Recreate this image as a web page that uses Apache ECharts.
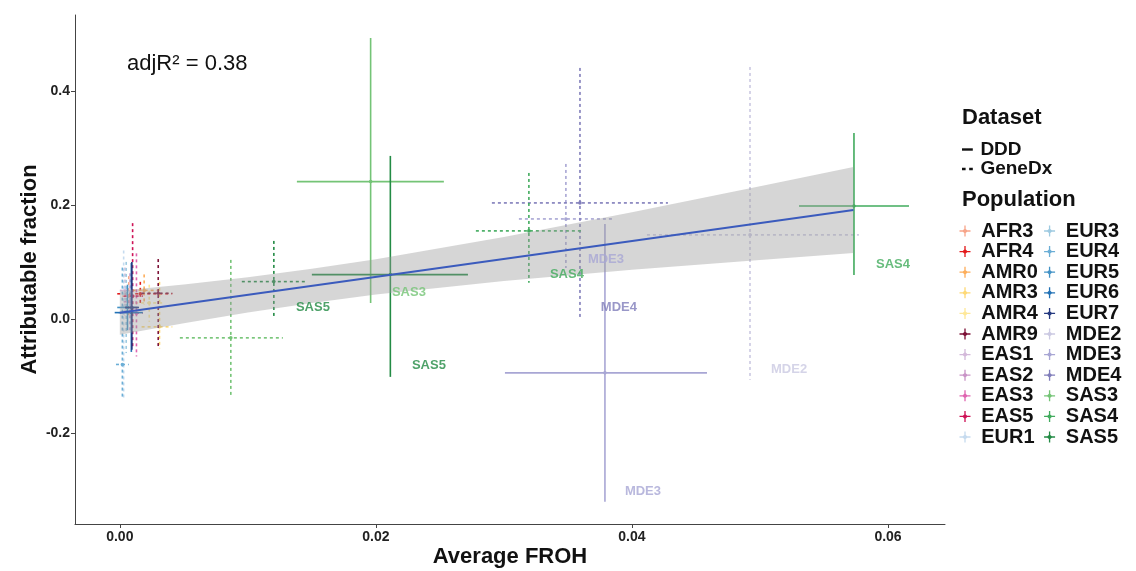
<!DOCTYPE html>
<html>
<head>
<meta charset="utf-8">
<script src="https://cdn.jsdelivr.net/npm/echarts@6/dist/echarts.min.js"></script>
<style>html,body{margin:0;padding:0;background:#fff}#c{width:1136px;height:571px}</style>
</head>
<body>
<div id="c"></div>
<script>
// ---- Populations and colours ----
const populations = ['AFR3','AFR4','AMR0','AMR3','AMR4','AMR9','EAS1','EAS2','EAS3','EAS5','EUR1',
                     'EUR3','EUR4','EUR5','EUR6','EUR7','MDE2','MDE3','MDE4','SAS3','SAS4','SAS5'];
const popColors = ['#f7a58a','#e31a1c','#fdae5b','#fed976','#fee89a','#7d1237','#d4b9da','#c994c7','#df65b0','#ce1256','#c6dbef',
                   '#9ecae1','#6baed6','#4292c6','#2171b5','#253a80','#cbc9e2','#a8a6d4','#807dba','#74c476','#41ab5d','#238b45'];

// ---- Points: population, dataset, Average FROH (with range), attributable fraction (with range) ----
const pointPop = ['SAS3','SAS5','SAS4','MDE3','SAS5','SAS3','SAS4','MDE3','MDE4','MDE2',
                  'AFR3','AFR4','AMR0','AMR3','AMR4','AMR9','EAS1','EAS2','EAS3','EAS5','EUR1','EUR3','EUR4','EUR5','EUR6','EUR7'];
const pointSet = ['DDD','DDD','DDD','DDD','GeneDx','GeneDx','GeneDx','GeneDx','GeneDx','GeneDx',
                  'GeneDx','GeneDx','GeneDx','GeneDx','GeneDx','GeneDx','GeneDx','GeneDx','GeneDx','GeneDx','GeneDx','GeneDx','GeneDx','DDD','DDD','DDD'];
const froh    = [0.01959,0.02113,0.05734,0.03789,0.01203,0.00867,0.03195,0.03484,0.03594,0.04922,
                 0.0007,0.0016,0.0019,0.0031,0.0023,0.0030,0.0004,0.0008,0.0013,0.0010,0.0003,0.0005,0.0002,0.0006,0.0009,0.00094];
const frohLow = [0.01383,0.0150,0.05305,0.03008,0.00953,0.00469,0.02781,0.03117,0.02906,0.04117,
                 0.0002,-0.0002,0.0010,0.0017,0.0012,0.0017,0.0000,0.0003,0.0008,0.0003,-0.0001,0.0001,-0.0003,-0.0002,-0.0004,0.0004];
const frohHigh= [0.02531,0.02719,0.06164,0.04586,0.01461,0.01273,0.03602,0.03859,0.04281,0.05773,
                 0.0012,0.0041,0.0030,0.0041,0.0034,0.0041,0.0009,0.0013,0.0018,0.0018,0.0008,0.0010,0.0007,0.0014,0.0018,0.0015];
const af      = [0.2409,0.0777,0.1982,-0.0947,0.0654,-0.0333,0.1544,0.1754,0.2035,0.1474,
                 0.040,0.044,0.050,-0.014,0.028,0.045,0.050,0.030,0.010,0.040,0.010,0.020,-0.080,0.020,0.011,0.020];
const afLow   = [0.028,-0.1018,0.0772,-0.321,0.0018,-0.1368,0.0632,0.0895,-0.0018,-0.107,
                 0.005,0.025,0.025,-0.052,-0.005,-0.050,0.005,-0.020,-0.066,-0.050,-0.140,-0.060,-0.140,-0.020,-0.058,-0.054];
const afHigh  = [0.493,0.286,0.3263,0.1667,0.1368,0.1035,0.2561,0.2719,0.4404,0.4421,
                 0.075,0.065,0.078,0.065,0.060,0.105,0.090,0.080,0.115,0.168,0.120,0.100,0.090,0.060,0.098,0.100];

// ---- Regression line and its confidence band ----
const fitX = [0, 0.0573];
const fitY = [0.0107, 0.1911];
const bandX    = [0, 0.005, 0.01, 0.015, 0.02, 0.03, 0.04, 0.05, 0.0573];
const bandLow  = [-0.0279,-0.0076,0.0112,0.0279,0.0427,0.0665,0.0861,0.1035,0.1156];
const bandHigh = [0.0493,0.0604,0.0732,0.0879,0.1047,0.1437,0.1871,0.2327,0.2666];

// ---- Text labels next to points ----
const labelText = ['SAS5','SAS3','SAS5','SAS4','MDE3','MDE4','MDE3','MDE2','SAS4'];
const labelX    = [0.01508,0.02258,0.02414,0.03492,0.03797,0.03898,0.04086,0.05227,0.06039];
const labelY    = [0.0193,0.0456,-0.0825,0.0772,0.1035,0.0193,-0.3035,-0.0895,0.0947];

// ---- Axis ticks ----
const xTicks = [0, 0.02, 0.04, 0.06];
const yTicks = [-0.2, 0, 0.2, 0.4];

const FONT = 'Liberation Sans';
const colorOf = p => popColors[populations.indexOf(p)];
const starIcon = 'path://M4.4,0H5.6V3.2L7,4.4H10V5.6H7L5.6,6.8V10H4.4V6.8L3,5.6H0V4.4H3L4.4,3.2Z';

function renderBars(params, api) {
  const x = api.value(0), y = api.value(1);
  const p = api.coord([x, y]);
  const pl = api.coord([api.value(2), y]);
  const pr = api.coord([api.value(3), y]);
  const pt = api.coord([x, api.value(5)]);
  const pb = api.coord([x, api.value(4)]);
  const c = api.visual('color');
  const dashed = api.value(6) === 1;
  const style = {stroke: c, lineWidth: 1.6, fill: null, lineDash: dashed ? [3, 3] : null};
  return {type: 'group', children: [
    {type: 'line', shape: {x1: pl[0], y1: pl[1], x2: pr[0], y2: pr[1]}, style: style},
    {type: 'line', shape: {x1: pt[0], y1: pt[1], x2: pb[0], y2: pb[1]}, style: style},
    {type: 'circle', shape: {cx: p[0], cy: p[1], r: 1.8}, style: {fill: c}}
  ]};
}

const barSeries = populations.map((pop, k) => {
  const data = [];
  pointPop.forEach((pp, i) => {
    if (pp === pop) data.push([froh[i], af[i], frohLow[i], frohHigh[i], afLow[i], afHigh[i], pointSet[i] === 'GeneDx' ? 1 : 0]);
  });
  return {
    type: 'custom', name: pop, renderItem: renderBars, data: data,
    encode: {x: 0, y: 1}, itemStyle: {color: popColors[k]}, z: 2, clip: true, silent: true
  };
});

const bandPoly = bandX.map((x, i) => [x, bandHigh[i]]).concat(bandX.map((x, i) => [x, bandLow[i]]).reverse());

const option = {
  animation: false,
  backgroundColor: '#fff',
  textStyle: {fontFamily: FONT},
  grid: {left: 75, right: 191, top: 15, bottom: 47, containLabel: false, outerBoundsMode: 'none'},
  xAxis: {
    type: 'value', min: -0.0035, max: 0.06445,
    name: 'Average FROH', nameLocation: 'middle', nameGap: 22, nameMoveOverlap: false,
    nameTextStyle: {fontSize: 22, fontWeight: 'bold', color: '#111', fontFamily: FONT},
    axisLine: {show: true, onZero: false, lineStyle: {color: '#444', width: 1}},
    axisTick: {show: true, length: 4, lineStyle: {color: '#444'}, customValues: xTicks},
    axisLabel: {customValues: xTicks, formatter: v => v.toFixed(2), fontSize: 14, fontWeight: 'bold', color: '#222', margin: 6, fontFamily: FONT},
    splitLine: {show: false}
  },
  yAxis: {
    type: 'value', min: -0.36, max: 0.5333,
    name: 'Attributable fraction', nameLocation: 'middle', nameGap: 34, nameMoveOverlap: false,
    nameTextStyle: {fontSize: 22, fontWeight: 'bold', color: '#111', fontFamily: FONT},
    axisLine: {show: true, onZero: false, lineStyle: {color: '#444', width: 1}},
    axisTick: {show: true, length: 4, lineStyle: {color: '#444'}, customValues: yTicks},
    axisLabel: {customValues: yTicks, formatter: v => v.toFixed(1), fontSize: 14, fontWeight: 'bold', color: '#222', margin: 5, fontFamily: FONT},
    splitLine: {show: false}
  },
  title: [
    {text: 'Dataset', left: 962, top: 107, padding: 0, textStyle: {fontSize: 22, fontWeight: 'bold', color: '#111', lineHeight: 22, fontFamily: FONT}},
    {text: 'Population', left: 962, top: 189, padding: 0, textStyle: {fontSize: 22, fontWeight: 'bold', color: '#111', lineHeight: 22, fontFamily: FONT}}
  ],
  legend: [
    {
      orient: 'vertical', left: 962, top: 140, padding: 0, itemGap: 0.5, selectedMode: false,
      itemWidth: 16, itemHeight: 2.4,
      data: [
        {name: 'DDD', icon: 'path://M0,0h9v2h-9z'},
        {name: 'GeneDx', icon: 'path://M0,0h3v2h-3zM6,0h3v2h-3z'}
      ],
      textStyle: {fontSize: 19, fontWeight: 'bold', color: '#111', fontFamily: FONT}
    },
    {
      orient: 'vertical', left: 959.5, top: 221, height: 228, padding: 0, itemGap: 0.6, selectedMode: false,
      itemWidth: 22.5, itemHeight: 11,
      data: populations.map(p => ({name: p, icon: starIcon})),
      formatter: name => name + '\u00a0',
      textStyle: {fontSize: 20, fontWeight: 'bold', color: '#111', fontFamily: FONT}
    }
  ],
  graphic: [
    {type: 'text', left: 127, top: 53, style: {text: 'adjR² = 0.38', font: '22px "Liberation Sans"', fill: '#111'}}
  ],
  series: [
    {type: 'line', name: 'DDD', data: [], itemStyle: {color: '#111'}, lineStyle: {color: '#111'}},
    {type: 'line', name: 'GeneDx', data: [], itemStyle: {color: '#111'}, lineStyle: {color: '#111'}}
  ].concat(barSeries).concat([
    {
      type: 'custom', name: 'band', silent: true, z: 3, data: [0],
      renderItem: function (params, api) {
        return {type: 'polygon', shape: {points: bandPoly.map(pt => api.coord(pt))},
                style: {fill: 'rgba(153,153,153,0.4)', stroke: null}};
      }
    },
    {
      type: 'line', name: 'fit', silent: true, z: 4, symbol: 'none',
      data: fitX.map((x, i) => [x, fitY[i]]),
      lineStyle: {color: '#3b5bbd', width: 2}
    },
    {
      type: 'scatter', name: 'labels', silent: true, z: 5, symbolSize: 0,
      data: labelText.map((t, i) => ({value: [labelX[i], labelY[i]], name: t,
        label: {color: colorOf(t)}})),
      label: {show: true, position: 'inside', formatter: '{b}', fontSize: 13, fontWeight: 'bold', fontFamily: FONT}
    }
  ])
};

const chart = echarts.init(document.getElementById('c'), null, {renderer: 'canvas'});
chart.setOption(option);
</script>
</body>
</html>
